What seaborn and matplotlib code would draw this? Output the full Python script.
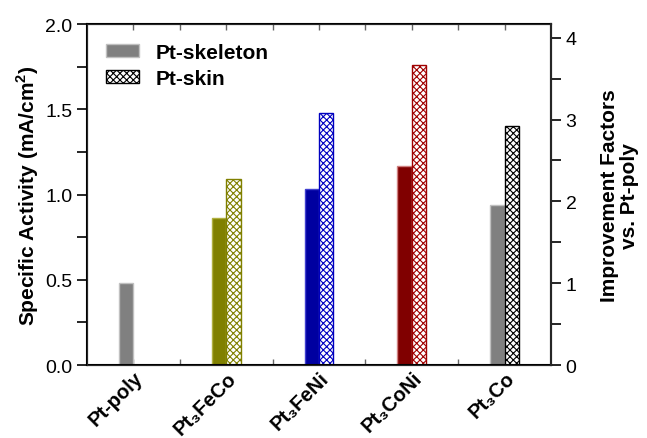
import numpy as np
import pandas as pd
import seaborn as sns
import matplotlib.pyplot as plt
from matplotlib.patches import Patch
from matplotlib.ticker import MultipleLocator, FixedLocator

catalysts = ["Pt-poly", "Pt3FeCo", "Pt3FeNi", "Pt3CoNi", "Pt3Co"]
tick_labels = ["Pt-poly", "Pt\u2083FeCo", "Pt\u2083FeNi", "Pt\u2083CoNi", "Pt\u2083Co"]
skeleton = [0.48, 0.86, 1.03, 1.17, 0.94]
skin = [np.nan, 1.09, 1.48, 1.76, 1.40]
bar_colors = ["#808080", "#808000", "#0000a0", "#800000", "#808080"]
edge_colors = ["#c0c0c0", "#b0b040", "#4040d0", "#d08080", "#c0c0c0"]
hatch_colors = ["#000000", "#808000", "#0000c0", "#a00000", "#000000"]
pt_poly_ref = 0.48

sns.set_style("ticks")
plt.rcParams['font.family'] = ['Liberation Sans', 'DejaVu Sans']
plt.rcParams['text.color'] = 'black'
plt.rcParams['axes.labelcolor'] = 'black'
plt.rcParams['xtick.color'] = 'black'
plt.rcParams['ytick.color'] = 'black'
plt.rcParams['mathtext.fontset'] = 'custom'
plt.rcParams['mathtext.rm'] = 'Liberation Sans:bold'
plt.rcParams['mathtext.bf'] = 'Liberation Sans:bold'
plt.rcParams['hatch.linewidth'] = 0.8

df = pd.DataFrame({
    "catalyst": catalysts * 2,
    "activity": skeleton + skin,
    "type": ["Pt-skeleton"] * 5 + ["Pt-skin"] * 5,
})

fig = plt.figure(figsize=(6.47, 4.39), dpi=100)
ax = fig.add_axes([0.1345, 0.166, 0.717, 0.777])

sns.barplot(data=df, x="catalyst", y="activity", hue="type", order=catalysts,
            width=0.31, dodge=True, legend=False, ax=ax, errorbar=None)

# colour each bar by category / type
for p in ax.patches:
    h = p.get_height()
    if h is None or np.isnan(h) or p.get_width() == 0:
        continue
    xc = p.get_x() + p.get_width() / 2
    i = int(round(xc))
    if i < 0 or i >= len(catalysts):
        continue
    if xc < i:
        p.set_facecolor(bar_colors[i])
        p.set_edgecolor(edge_colors[i])
        p.set_linewidth(1.0)
    else:
        p.set_facecolor("white")
        p.set_edgecolor(hatch_colors[i])
        p.set_hatch("xxxxx")
        p.set_linewidth(1.0)

ax.set_xlim(-0.5, 4.5)
ax.set_ylim(0, 2.0)
ax.set_yticks([0, 0.5, 1.0, 1.5, 2.0])
ax.yaxis.set_minor_locator(MultipleLocator(0.25))
ax.set_yticklabels(["0.0", "0.5", "1.0", "1.5", "2.0"], fontsize=14)
ax.tick_params(axis="y", which="both", direction="out", length=7, width=1.2)

ax.set_xticks(range(len(catalysts)))
ax.xaxis.set_minor_locator(FixedLocator(np.arange(0.5, 4.0, 0.5)))
ax.set_xticklabels(tick_labels, rotation=45, ha="right", rotation_mode="anchor",
                   fontsize=14.5, fontweight="bold")
ax.tick_params(axis="x", which="both", direction="in", length=4, width=1,
               top=True, bottom=True, pad=2, color="#666666")

ax.set_xlabel("")
ax.set_ylabel("Specific Activity (mA/cm$^\\mathbf{2}$)", fontsize=15,
              fontweight="bold", labelpad=3)

for s in ax.spines.values():
    s.set_visible(True)
    s.set_linewidth(1.5)
    s.set_color("black")

ax2 = ax.twinx()
ax2.set_ylim(0, 2.0 / pt_poly_ref)
ax2.yaxis.set_major_locator(MultipleLocator(1))
ax2.yaxis.set_minor_locator(MultipleLocator(0.5))
ax2.tick_params(axis="y", which="both", direction="out", length=7, width=1.2,
                labelsize=14)
ax2.spines["right"].set_linewidth(1.5)
ax2.set_ylabel("Improvement Factors\nvs. Pt-poly", fontsize=15,
               fontweight="bold", rotation=90, labelpad=17, linespacing=1.05)

handles = [Patch(facecolor="#808080", edgecolor="#c0c0c0", label="Pt-skeleton"),
           Patch(facecolor="white", edgecolor="black", hatch="xxxxx",
                 label="Pt-skin")]
ax.legend(handles=handles, loc="upper left", bbox_to_anchor=(0.0, 1.0),
          frameon=False, prop={"weight": "bold", "size": 15},
          handlelength=1.6, handleheight=0.6, handletextpad=0.8,
          labelspacing=0.35)

fig.savefig("out.png", dpi=100)
